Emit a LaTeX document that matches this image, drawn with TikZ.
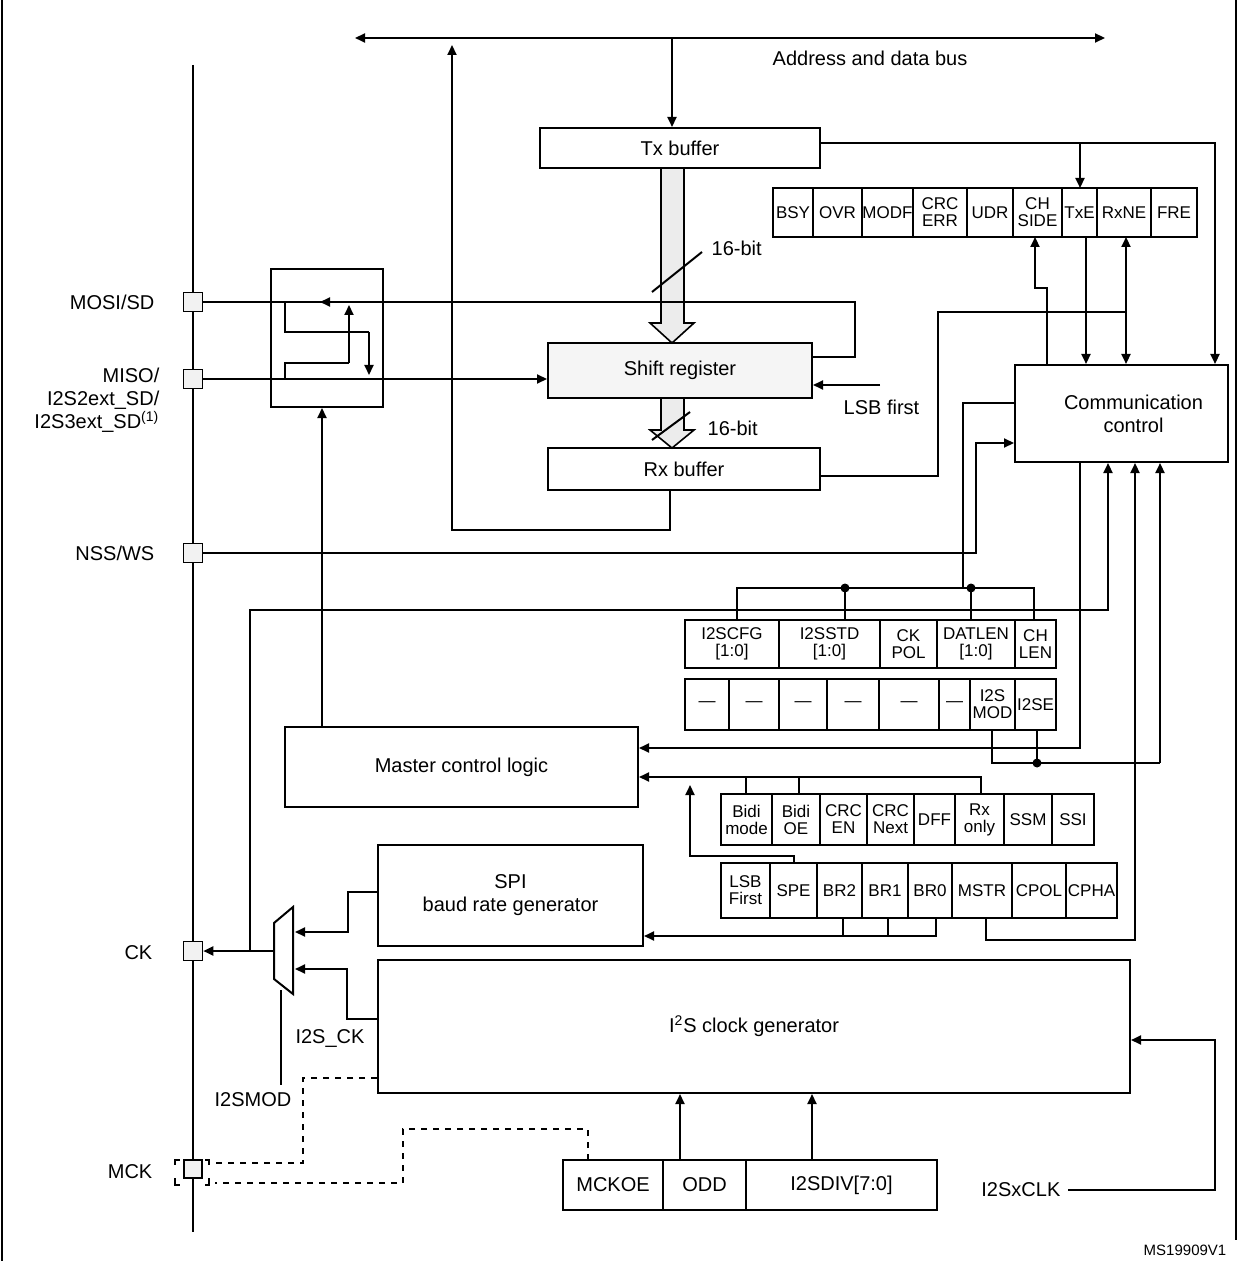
\documentclass[tikz,border=0pt]{standalone}
\usepackage{fontspec}
\setmainfont{Liberation Sans}
\usetikzlibrary{arrows.meta,fit}
\begin{document}
\begin{tikzpicture}[x=0.5pt, y=-0.5pt, line width=1pt, line join=miter,
		font=\fontsize{10}{11.5}\selectfont,
		>={Triangle[length=5pt, width=4.5pt]},
		box/.style={draw, inner sep=0pt},
		every label/.style={align=center},
		reg/.style={font=\fontsize{8.5}{8.5}\selectfont, align=center, inner sep=0pt},
		pin/.style={draw, fill=gray!10, minimum size=9.5pt, inner sep=0pt, line width=0.8pt},
		fat/.style={draw, fill=gray!15, line width=0.8pt},
		dot/.style={circle, fill, inner sep=0pt, minimum size=4.5pt}]
		\useasboundingbox (0,0) rectangle (1239,1261);
		% frame
		\draw (2,0) -- (2,1261);
		\draw (1236,0) -- (1236,1240);
		\draw (193,65) -- (193,1232);
		
		% Bus
		\draw[<->] (355,38) -- (1105,38);
		\node at (870,58) {Address and data bus};
		
		% Buffers
		\node[box, fit={(540,128) (820,168)}, label=center:Tx buffer] (tx) {};
		\node[box, fill=gray!8, fit={(548,343) (812,398)}, label=center:Shift register] (shift) {};
		\node[box, fit={(548,448) (820,490)}, label=center:Rx buffer] (rx) {};
		\node[box, fit={(1015,365) (1228,462)}, label={[xshift=6pt]center:Communication\\control}] (comm) {};
		\node[box, fit={(271,269) (383,407)}] (mux) {};
		\node[box, fit={(285,727) (638,807)}, label=center:Master control logic] (master) {};
		\node[box, fit={(378,845) (643,946)}, label=center:SPI\\baud rate generator] (baud) {};
		\node[box, fit={(378,960) (1130,1093)}, label={center:I\textsuperscript{2}S clock generator}] (i2sclk) {};
		
		\draw[->] (672,38) -- (tx.north -| 672,0);
		\draw[->] (tx.east |- 0,143) -- (1215,143) -- (comm.north -| 1215,0);
		\draw[->] (1080,143) -- (1080,188);
		
		% Fat arrows
		\draw[fat] (661,168) -- (684,168) -- (684,323) -- (694,323) -- (672,343) -- (650,323) -- (661,323) -- cycle;
		\draw (652,292) -- (702,252);
		\node[anchor=west] at (704,248) {16-bit};
		\draw[fat] (661,398) -- (684,398) -- (684,430) -- (694,430) -- (672,448) -- (650,430) -- (661,430) -- cycle;
		\draw (652,440) -- (690,412);
		\node[anchor=west] at (700,428) {16-bit};
		
		% Status register
		\foreach \xa/\xb/\t in {773/813/BSY, 813/862/OVR, 862/913/MODF, 913/967/{CRC\\ERR}, 967/1013/UDR,
			1013/1062/{CH\\SIDE}, 1062/1097/TxE, 1097/1151/RxNE, 1151/1197/FRE}
			\draw (\xa,188) rectangle (\xb,237) node[midway, reg] {\t};
		\draw[->] (1086,237) -- (comm.north -| 1086,0);
		\draw[<->] (1126,237) -- (comm.north -| 1126,0);
		\draw[->] (comm.north -| 1047,0) -- (1047,288) -- (1035,288) -- (1035,237);
		\draw (1126,312) -- (938,312) -- (938,476) -- (rx.east |- 0,476);
		
		% Shift register connections
		\node[pin] (mosi) at (193,302) {};
		\node[pin] (miso) at (193,379) {};
		\node[pin] (nss) at (193,553) {};
		\node[pin] (ck) at (193,951) {};
		\node[pin, minimum size=9pt] (mck) at (193,1169) {};
		\draw (mosi.east) -- (855,302) -- (855,357) -- (shift.east |- 0,357);
		\draw[->] (383,302) -- (320,302);
		\draw[->] (miso.east) -- (shift.west |- 0,379);
		\draw[->] (880,385) -- (shift.east |- 0,385);
		\node[anchor=north west] at (836,392) {LSB first};
		\draw (285,302) -- (285,332) -- (369,332) edge[->] (369,375);
		\draw (285,379) -- (285,363) -- (349,363) edge[->] (349,305);
		\draw[->] (master.north -| 322,0) -- (mux.south -| 322,0);
		\draw[->] (rx.south -| 670,0) -- (670,530) -- (452,530) -- (452,45);
		\draw[->] (nss.east) -- (976,553) -- (976,443) -- (comm.west |- 0,443);
		
		% Pin labels
		\node[anchor=east] at (162,302) {MOSI/SD};
		\node[anchor=east, align=right] at (167,400) {MISO/\\I2S2ext\_SD/\\I2S3ext\_SD\textsuperscript{(1)}};
		\node[anchor=east] at (162,553) {NSS/WS};
		\node[anchor=east] at (160,953) {CK};
		\node[anchor=east] at (160,1172) {MCK};
		
		% I2S config registers
		\foreach \xa/\xb/\t in {685/779/{I2SCFG\\{[1:0]}}, 779/880/{I2SSTD\\{[1:0]}}, 880/937/{CK\\POL},
			937/1015/{DATLEN\\{[1:0]}}, 1015/1056/{CH\\LEN}}
			\draw (\xa,620) rectangle (\xb,668) node[midway, reg] {\t};
		\foreach \xa/\xb/\t in {685/729/\textemdash, 729/779/\textemdash, 779/827/\textemdash, 827/879/\textemdash,
			879/939/\textemdash, 939/970/\textemdash, 970/1015/{I2S\\MOD}, 1015/1056/I2SE}
			\draw (\xa,679) rectangle (\xb,730) node[midway, reg] {\t};
		\draw (comm.west |- 0,403) -- (963,403) -- (963,588);
		\draw (737,620) -- (737,588) -- (1034,588) -- (1034,620);
		\draw (845,588) -- (845,620);
		\draw (971,588) -- (971,620);
		\node[dot] at (845,588) {};
		\node[dot] at (971,588) {};
		\draw[<-] (comm.south -| 1108,0) -- (1108,610) -- (250,610) -- (250,951);
		\draw (992,730) -- (992,763) -- (1160,763) edge[->] (comm.south -| 1160,0);
		\draw (1037,730) -- (1037,763);
		\node[dot] at (1037,763) {};
		\draw[->] (comm.south -| 1080,0) -- (1080,748) -- (master.east |- 0,748);
		
		% SPI registers
		\foreach \xa/\xb/\t in {721/772/{Bidi\\mode}, 772/820/{Bidi\\OE}, 820/867/{CRC\\EN}, 867/914/{CRC\\Next},
			914/955/DFF, 955/1004/{Rx\\only}, 1004/1052/SSM, 1052/1094/SSI}
			\draw (\xa,794) rectangle (\xb,845) node[midway, reg] {\t};
		\draw[->] (981,794) -- (981,777) -- (master.east |- 0,777);
		\draw (746,794) -- (746,777);
		\draw (799,794) -- (799,777);
		\foreach \xa/\xb/\t in {721/770/{LSB\\First}, 770/817/SPE, 817/862/BR2, 862/908/BR1, 908/952/BR0,
			952/1012/MSTR, 1012/1066/CPOL, 1066/1117/CPHA}
			\draw (\xa,863) rectangle (\xb,918) node[midway, reg] {\t};
		\draw[->] (794,863) -- (794,856) -- (690,856) -- (690,785);
		\draw[->] (936,918) -- (936,936) -- (baud.east |- 0,936);
		\draw (843,918) -- (843,936);
		\draw (888,918) -- (888,936);
		\draw[->] (986,918) -- (986,940) -- (1135,940) -- (comm.south -| 1135,0);
		
		% Clock mux
		\draw (274,923) -- (293,907) -- (293,994) -- (274,979) -- cycle;
		\draw[->] (274,951) -- (ck.east);
		\draw[->] (baud.west |- 0,892) -- (348,892) -- (348,932) -- (295,932);
		\draw[->] (i2sclk.west |- 0,1019) -- (347,1019) -- (347,969) -- (295,969);
		\draw (281,990) -- (281,1085);
		\node at (253,1100) {I2SMOD};
		\node at (330,1038) {I2S\_CK};
		
		% MCK
		\draw[dashed] (i2sclk.west |- 0,1078) -- (303,1078) -- (303,1163) -- (215,1163);
		\draw[dashed] (588,1160) -- (588,1129) -- (403,1129) -- (403,1183) -- (215,1183);
		\draw (180,1160) -- (175,1160) -- (175,1165) (175,1178) -- (175,1185) -- (180,1185)
			(205,1160) -- (209,1160) -- (209,1165) (209,1178) -- (209,1185) -- (205,1185);
		\foreach \xa/\xb/\t in {563/663/MCKOE, 663/746/ODD, 746/937/{I2SDIV[7:0]}}
			\draw (\xa,1160) rectangle (\xb,1210) node[midway] {\t};
		\draw[->] (680,1160) -- (i2sclk.south -| 680,0);
		\draw[->] (812,1160) -- (i2sclk.south -| 812,0);
		\node[anchor=east] (clkin) at (1068,1190) {I2SxCLK};
		\draw[->] (clkin.east) -- (1215,1190) -- (1215,1040) -- (i2sclk.east |- 0,1040);
		
		\node[font=\fontsize{7.5}{8}\selectfont] at (1185,1250) {MS19909V1};
	\end{tikzpicture}
\end{document}
